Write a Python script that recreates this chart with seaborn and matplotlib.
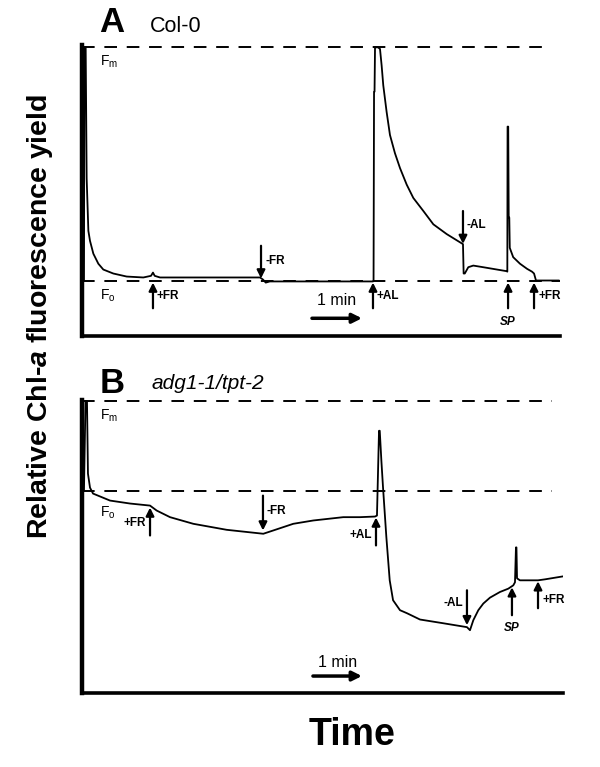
import matplotlib
matplotlib.use('Agg')
import matplotlib.pyplot as plt
import seaborn as sns

# Chlorophyll fluorescence traces, time in s, yield relative to Fo (0) and Fm (1)
time_a = [1.0, 2.4, 3.0, 4.5, 5.7, 7.8, 9.8, 13.9, 20.0, 26.1, 38.3, 54.7, 75.1, 84.5, 86.9,
          89.0, 95.5, 144.5, 218.0, 221.6, 225.0, 230.0, 315.9, 356.3, 357.0, 357.6, 358.2,
          358.8, 362.5, 364.9, 366.9, 368.9, 373.0, 377.1, 383.2, 389.4, 397.6, 405.7, 418.0,
          430.2, 446.6, 466.5, 467.3, 468.7, 473.0, 479.1, 491.3, 520.0, 520.8, 521.1, 521.9,
          522.5, 523.2, 523.8, 528.0, 536.3, 545.0, 551.0, 553.5, 555.9, 584.1]
yield_a = [0.0, 0.0, 1.0, 1.0, 0.438, 0.213, 0.170, 0.115, 0.072, 0.047, 0.030, 0.017, 0.013,
           0.02, 0.034, 0.02, 0.013, 0.013, 0.013, 0.004, -0.009, -0.004, -0.004, -0.004, 0.0,
           0.809, 0.81, 1.0, 1.0, 0.993, 0.922, 0.837, 0.723, 0.624, 0.546, 0.482, 0.411, 0.354,
           0.298, 0.241, 0.199, 0.156, 0.03, 0.030, 0.057, 0.064, 0.057, 0.040, 0.038, 0.66,
           0.66, 0.27, 0.27, 0.14, 0.10, 0.072, 0.05, 0.038, 0.03, 0.0, 0.0]

time_b = [2.4, 4.3, 6.1, 7.3, 9.8, 13.5, 34.3, 58.8, 83.3, 91.4, 107.8, 136.3, 177.2, 222.0,
          234.3, 258.7, 283.2, 319.9, 340.4, 358.8, 361.2, 363.7, 364.6, 366.6, 368.6, 372.7,
          376.8, 380.9, 389.4, 398.0, 413.9, 442.0, 471.4, 475.1, 479.2, 485.3, 491.4, 499.6,
          511.8, 522.0, 528.1, 530.2, 531.4, 532.0, 532.7, 536.3, 558.4, 567.0, 589.0]
yield_b = [0.0, 1.0, 1.0, 0.189, 0.033, -0.033, -0.111, -0.144, -0.167, -0.222, -0.296,
           -0.370, -0.437, -0.481, -0.444, -0.370, -0.333, -0.296, -0.296, -0.289, -0.278, 0.667,
           0.667, 0.333, 0.037, -0.519, -1.0, -1.222, -1.333, -1.367, -1.437, -1.478, -1.522,
           -1.556, -1.444, -1.333, -1.259, -1.193, -1.130, -1.093, -1.056, -1.022, -0.633,
           -0.633, -0.978, -1.0, -1.0, -0.989, -0.956]

# treatment markers: (label, time, arrow tail, arrow head, label x, label y, alignment)
events_a = [('+FR', 86.9, -0.119, -0.009, 91.8, -0.068, 'left'),
            ('-FR', 219.2, 0.149, 0.009, 224.1, 0.085, 'left'),
            ('+AL', 356.3, -0.119, -0.009, 361.2, -0.068, 'left'),
            ('-AL', 466.5, 0.298, 0.157, 471.4, 0.238, 'left'),
            ('SP', 521.7, -0.119, -0.009, 521.7, -0.18, 'center'),
            ('+FR', 553.5, -0.119, -0.009, 558.4, -0.068, 'left')]
events_b = [('+FR', 83.3, -0.5, -0.189, 78.4, -0.356, 'right'),
            ('-FR', 221.6, -0.056, -0.444, 226.5, -0.222, 'left'),
            ('+AL', 360.0, -0.611, -0.3, 355.1, -0.5, 'right'),
            ('-AL', 471.4, -1.111, -1.5, 466.5, -1.256, 'right'),
            ('SP', 526.5, -1.389, -1.078, 526.5, -1.533, 'center'),
            ('+FR', 558.4, -1.311, -1.011, 563.3, -1.222, 'left')]

sns.set_style('white', {'text.color': 'black', 'axes.edgecolor': 'black'})
plt.rcParams['font.family'] = ['Liberation Sans', 'DejaVu Sans']
plt.rcParams['mathtext.fontset'] = 'custom'
plt.rcParams['mathtext.rm'] = 'Liberation Sans'
plt.rcParams['mathtext.it'] = 'Liberation Sans:italic:bold'

W, H = 600, 767
fig = plt.figure(figsize=(6, 7.67), dpi=100)


def box(left, top, right, bottom):
    return [left / W, 1 - bottom / H, (right - left) / W, (bottom - top) / H]


def draw_panel(ax, t, f, events, xmax, ymin, fo_end, fm_end, scale_t, scale_y, text_y):
    sns.lineplot(x=t, y=f, ax=ax, color='black', lw=1.3, estimator=None, sort=False)
    ax.plot([0, fm_end], [1, 1], color='black', lw=1.4, dashes=(6.5, 5), clip_on=False)
    ax.plot([0, fo_end], [0, 0], color='black', lw=1.4, dashes=(6.5, 5), clip_on=False)
    for lab, x, y0, y1, lx, ly, ha in events:
        ax.annotate('', xy=(x, y1), xytext=(x, y0),
                    arrowprops=dict(arrowstyle='-|>', color='black', lw=1.6, mutation_scale=12,
                                    shrinkA=0, shrinkB=0))
        style = 'italic' if lab == 'SP' else 'normal'
        ax.text(lx, ly, lab, ha=ha, va='center', fontsize=8.5, fontweight='bold', style=style)
    ax.annotate('', xy=(scale_t[1], scale_y), xytext=(scale_t[0], scale_y),
                arrowprops=dict(arrowstyle='-|>', color='black', lw=2.5, mutation_scale=14,
                                shrinkA=0, shrinkB=0))
    ax.text((scale_t[0] + scale_t[1]) / 2, text_y, '1 min', ha='center', va='center', fontsize=11.5)
    ax.set_xlim(0, xmax)
    ax.set_ylim(ymin, 1.01)
    ax.set_xticks([])
    ax.set_yticks([])
    sns.despine(ax=ax)
    ax.spines['left'].set_linewidth(3.2)
    ax.spines['bottom'].set_linewidth(2.6)
    ax.set_xlabel('')
    ax.set_ylabel('')


ax_a = fig.add_axes(box(82, 45, 560, 336))
draw_panel(ax_a, time_a, yield_a, events_a, 585.3, -0.238, 585.0, 571.0,
           (281.6, 342.8), -0.162, -0.085)
ax_b = fig.add_axes(box(82, 400, 563, 693))
draw_panel(ax_b, time_b, yield_b, events_b, 589.0, -2.256, 575.0, 575.0,
           (282.8, 342.8), -2.067, -1.911)

fig.text(100 / W, 1 - 62 / H, r'F$_{\mathrm{m}}$', fontsize=10, va='center')
fig.text(100 / W, 1 - 296 / H, r'F$_{\mathrm{o}}$', fontsize=10, va='center')
fig.text(100 / W, 1 - 416 / H, r'F$_{\mathrm{m}}$', fontsize=10, va='center')
fig.text(100 / W, 1 - 513 / H, r'F$_{\mathrm{o}}$', fontsize=10, va='center')

fig.text(112 / W, 1 - 22 / H, 'A', fontsize=25, fontweight='bold', ha='center', va='center')
fig.text(150 / W, 1 - 27 / H, 'Col-0', fontsize=15.5, ha='left', va='center')
fig.text(112 / W, 1 - 383 / H, 'B', fontsize=25, fontweight='bold', ha='center', va='center')
fig.text(152 / W, 1 - 383 / H, 'adg1-1/tpt-2', fontsize=15, style='italic', ha='left', va='center')

fig.text(40 / W, 1 - 316 / H, 'Relative Chl-$\\it{a}$ fluorescence yield', rotation=90,
         fontsize=20.5, fontweight='bold', ha='center', va='center')
fig.text(352 / W, 1 - 735 / H, 'Time', fontsize=27, fontweight='bold', ha='center', va='center')

fig.savefig('out.png', dpi=100)
